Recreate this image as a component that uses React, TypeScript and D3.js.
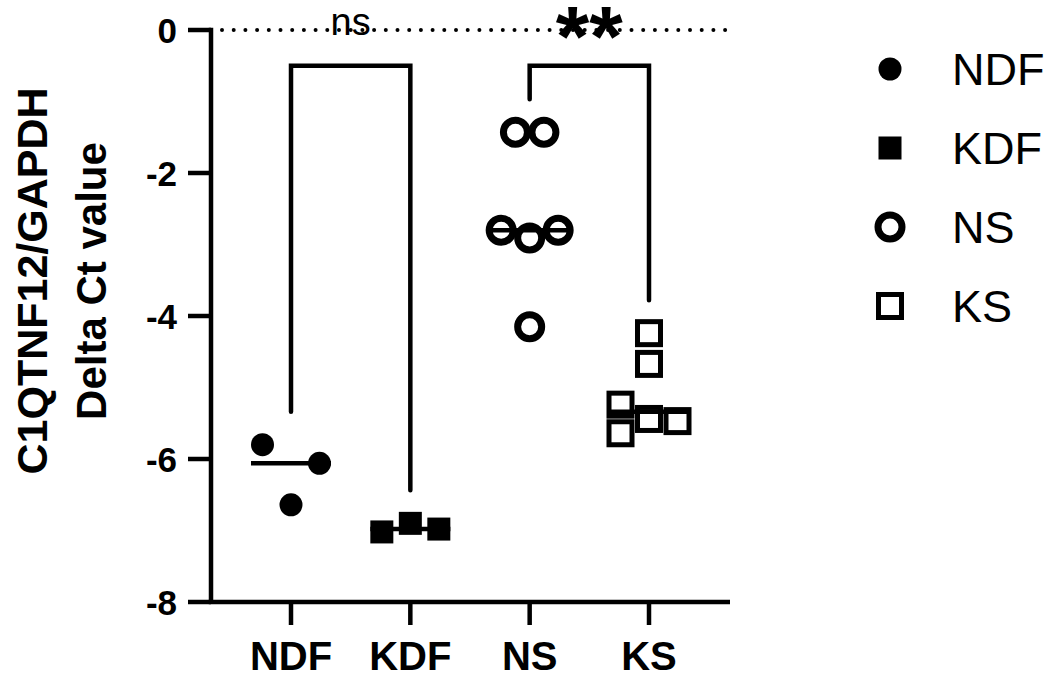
import React from "react";
import * as d3 from "d3";

// Delta Ct values (C1QTNF12 relative to GAPDH) per group
const categories = ["NDF", "KDF", "NS", "KS"];
const ndfValues = [-5.8, -6.06, -6.64];
const kdfValues = [-7.02, -6.9, -6.98];
const nsValues = [-1.43, -1.43, -2.8, -2.91, -2.8, -4.15];
const ksValues = [-4.24, -4.67, -5.24, -5.64, -5.44, -5.47];

// Horizontal scatter slot of each point (in marker widths from the group centre)
const ndfSlots = [-1, 1, 0];
const kdfSlots = [-1, 0, 1];
const nsSlots = [-0.5, 0.5, -1, 0, 1, 0];
const ksSlots = [0, 0, -1, -1, 0, 1];

const yTicks = [0, -2, -4, -6, -8];

// Significance comparisons: [left group, right group, label]
const comparisons: [number, number, string][] = [
  [0, 1, "ns"],
  [2, 3, "**"],
];
const bracketLevel = -0.5;

const FONT = "'Liberation Sans', Arial, Helvetica, sans-serif";

type Shape = "dot" | "square" | "ring" | "box";
const groups: { name: string; values: number[]; slots: number[]; shape: Shape }[] = [
  { name: categories[0], values: ndfValues, slots: ndfSlots, shape: "dot" },
  { name: categories[1], values: kdfValues, slots: kdfSlots, shape: "square" },
  { name: categories[2], values: nsValues, slots: nsSlots, shape: "ring" },
  { name: categories[3], values: ksValues, slots: ksSlots, shape: "box" },
];

function Marker({ shape, x, y }: { shape: Shape; x: number; y: number }) {
  const s = 23;
  if (shape === "dot") return <circle cx={x} cy={y} r={s / 2} fill="#000" />;
  if (shape === "square")
    return <rect x={x - s / 2} y={y - s / 2} width={s} height={s} fill="#000" />;
  if (shape === "ring")
    return <circle cx={x} cy={y} r={12} fill="none" stroke="#000" strokeWidth={7} />;
  return (
    <rect x={x - s / 2} y={y - s / 2} width={s} height={s} fill="none" stroke="#000" strokeWidth={5} />
  );
}

export default function App() {
  const width = 1054;
  const height = 679;
  const axisLeft = 211;
  const axisRight = 730;

  const y = d3.scaleLinear().domain([-8, 0]).range([602, 30]);
  const x = d3.scalePoint<string>().domain(categories).range([291, 649]);
  const slotWidth = 28.5;
  const medianHalf = 40;
  const lw = 4.5;

  return (
    <svg
      width={width}
      height={height}
      style={{ position: "absolute", left: 0, top: 0, background: "#fff" }}
      fontFamily={FONT}
    >
      {/* zero reference line */}
      <line
        x1={axisLeft + 11}
        x2={axisRight}
        y1={y(0)}
        y2={y(0)}
        stroke="#000"
        strokeWidth={4}
        strokeLinecap="round"
        strokeDasharray="0 11.7"
      />

      {/* y axis */}
      <line x1={axisLeft} x2={axisLeft} y1={y(0) - lw / 2} y2={y(-8)} stroke="#000" strokeWidth={lw} />
      {yTicks.map((t) => (
        <g key={t}>
          <line x1={axisLeft - 23} x2={axisLeft} y1={y(t)} y2={y(t)} stroke="#000" strokeWidth={lw} />
          <text
            x={177}
            y={y(t)}
            dy="0.36em"
            textAnchor="end"
            fontSize={35}
            fontWeight="bold"
          >
            {t === 0 ? "0" : `-${Math.abs(t)}`}
          </text>
        </g>
      ))}

      {/* x axis */}
      <line x1={axisLeft - lw / 2} x2={axisRight} y1={y(-8)} y2={y(-8)} stroke="#000" strokeWidth={lw} />
      {categories.map((c) => (
        <g key={c}>
          <line x1={x(c)} x2={x(c)} y1={y(-8)} y2={y(-8) + 23} stroke="#000" strokeWidth={lw} />
          <text x={x(c)} y={670} textAnchor="middle" fontSize={40} fontWeight="bold">
            {c}
          </text>
        </g>
      ))}

      {/* y axis title */}
      <g transform="translate(47,281) rotate(-90)">
        <text x={0} y={0} textAnchor="middle" fontSize={43} fontWeight="bold">
          C1QTNF12/GAPDH
        </text>
        <text x={0} y={59} textAnchor="middle" fontSize={42} fontWeight="bold">
          Delta Ct value
        </text>
      </g>

      {/* medians */}
      {groups.map((g) => {
        const m = d3.median(g.values) as number;
        const cx = x(g.name) as number;
        return (
          <line
            key={`m-${g.name}`}
            x1={cx - medianHalf}
            x2={cx + medianHalf}
            y1={y(m)}
            y2={y(m)}
            stroke="#000"
            strokeWidth={lw}
          />
        );
      })}

      {/* points */}
      {groups.map((g) =>
        g.values.map((v, i) => (
          <Marker
            key={`${g.name}-${i}`}
            shape={g.shape}
            x={(x(g.name) as number) + g.slots[i] * slotWidth}
            y={y(v)}
          />
        ))
      )}

      {/* significance brackets */}
      {comparisons.map(([a, b, label]) => {
        const ga = groups[a];
        const gb = groups[b];
        const xa = x(ga.name) as number;
        const xb = x(gb.name) as number;
        const top = y(bracketLevel);
        const endA = y(d3.max(ga.values) as number) - 33;
        const endB = y(d3.max(gb.values) as number) - 33;
        const isStar = label.startsWith("*");
        return (
          <g key={label}>
            <path
              d={`M${xa},${endA}V${top}H${xb}V${endB}`}
              fill="none"
              stroke="#000"
              strokeWidth={lw}
              strokeLinecap="round"
              strokeLinejoin="miter"
            />
            <text
              x={(xa + xb) / 2}
              y={isStar ? 66 : 35}
              textAnchor="middle"
              fontSize={isStar ? 86 : 38}
              fontWeight={isStar ? "bold" : "normal"}
            >
              {label}
            </text>
          </g>
        );
      })}

      {/* legend */}
      {groups.map((g, i) => {
        const ly = 69 + i * 79;
        return (
          <g key={`lg-${g.name}`}>
            <Marker shape={g.shape} x={890} y={ly} />
            <text x={952} y={ly} dy="0.36em" fontSize={45}>
              {g.name}
            </text>
          </g>
        );
      })}
    </svg>
  );
}
